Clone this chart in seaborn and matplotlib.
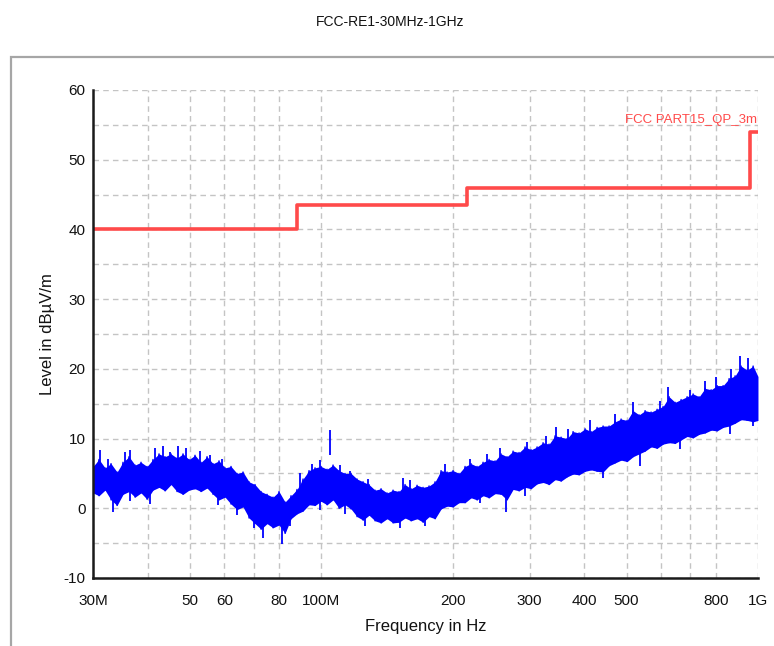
import matplotlib
matplotlib.use("Agg")
import matplotlib.pyplot as plt
import pandas as pd
import seaborn as sns
from matplotlib.patches import Rectangle
from matplotlib.ticker import FixedLocator, FixedFormatter, NullLocator

# ── Data ──────────────────────────────────────────────────────────

TITLE = "FCC-RE1-30MHz-1GHz"

# limit line (step, frequencies in MHz)
limit_freq_mhz = [30, 88, 216, 960, 1000]
limit_level = [40.0, 43.5, 46.0, 54.0, 54.0]
limit_name = "FCC PART15_QP_3m"

trace_freq_mhz = [
    30.00, 30.96, 31.96, 32.99, 34.05, 35.14, 36.27, 37.44, 38.64, 39.88,
    41.16, 42.49, 43.85, 45.26, 46.72, 48.22, 49.77, 51.37, 53.02, 54.73,
    56.49, 58.30, 60.18, 62.11, 64.11, 66.17, 68.30, 70.49, 72.76, 75.10,
    77.51, 80.00, 82.58, 85.23, 87.97, 90.80, 93.72, 96.73, 99.84, 103.05,
    106.37, 109.79, 113.32, 116.96, 120.72, 124.60, 128.61, 132.74, 137.01, 141.42,
    145.97, 150.66, 155.50, 160.50, 165.66, 170.99, 176.49, 182.16, 188.02, 194.06,
    200.30, 206.74, 213.39, 220.25, 227.33, 234.64, 242.18, 249.97, 258.01, 266.30,
    274.87, 283.70, 292.82, 302.24, 311.96, 321.99, 332.34, 343.03, 354.06, 365.44,
    377.19, 389.32, 401.84, 414.76, 428.10, 441.86, 456.07, 470.74, 485.87, 501.49,
    517.62, 534.26, 551.44, 569.17, 587.47, 606.36, 625.86, 645.98, 666.75, 688.19,
    710.32, 733.16, 756.73, 781.06, 806.18, 832.10, 858.86, 886.47, 914.97, 944.39,
    974.76, 1000.0,
]
trace_hi = [
    6.0, 7.0, 5.8, 6.4, 5.2, 6.6, 7.4, 6.2, 6.6, 6.0,
    7.0, 7.8, 7.4, 7.8, 7.2, 7.8, 7.0, 7.6, 6.6, 7.4,
    6.4, 6.8, 5.8, 6.0, 5.0, 5.2, 3.8, 3.4, 2.4, 2.0,
    1.6, 2.4, 0.9, 1.8, 2.7, 4.2, 5.4, 5.8, 6.0, 5.6,
    6.2, 5.4, 5.0, 5.0, 4.2, 3.8, 3.4, 2.6, 2.8, 2.2,
    2.6, 2.4, 3.4, 2.8, 3.3, 3.0, 3.2, 3.8, 5.4, 5.2,
    5.4, 5.0, 6.0, 6.4, 6.0, 6.6, 7.0, 6.8, 7.8, 7.4,
    8.2, 8.0, 8.8, 8.4, 8.8, 9.4, 9.2, 10.4, 10.2, 10.0,
    11.0, 10.8, 11.4, 11.0, 11.6, 11.8, 11.8, 12.4, 12.8, 12.6,
    14.0, 13.4, 14.0, 13.8, 14.2, 14.6, 16.0, 15.2, 15.6, 16.0,
    16.4, 16.0, 17.2, 17.0, 17.6, 17.6, 18.6, 19.0, 20.4, 19.8,
    20.4, 18.9,
]
trace_lo = [
    2.2, 1.8, 2.6, 1.2, 0.4, 2.0, 2.4, 1.6, 2.2, 1.3,
    2.6, 3.0, 2.5, 3.4, 2.4, 2.0, 2.6, 2.8, 2.4, 2.9,
    2.0, 1.2, 1.6, 0.6, -0.2, 0.2, -1.4, -2.2, -3.0, -2.2,
    -2.8, -2.4, -3.6, -1.5, -0.8, -0.4, 0.5, 0.4, 1.0, 0.5,
    1.2, 0.0, 0.5, -0.1, -1.2, -1.7, -1.0, -1.8, -2.1, -1.5,
    -2.1, -2.0, -1.4, -1.8, -1.5, -2.0, -1.2, -1.5, -0.1, 0.3,
    0.2, 0.8, 0.8, 1.5, 1.2, 1.8, 1.5, 2.1, 2.0, 1.2,
    2.7, 2.5, 3.0, 2.8, 3.5, 3.7, 3.4, 4.1, 3.9, 4.5,
    4.9, 4.8, 5.3, 5.5, 5.3, 5.2, 6.1, 6.5, 6.9, 6.7,
    7.4, 7.8, 8.2, 8.8, 8.6, 9.2, 9.4, 9.3, 9.8, 10.3,
    10.1, 10.6, 10.8, 11.2, 11.1, 11.6, 11.8, 12.2, 12.7, 12.6,
    12.4, 12.6,
]

# thin peaks sticking out of the noise band
spike_up_freq_mhz = [
    31.13, 32.47, 35.51, 36.47, 41.60, 43.39, 45.02, 46.97, 48.99, 52.74,
    55.59, 59.24, 89.36, 95.19, 99.32, 104.7, 110.35, 116.32, 127.90, 153.80,
    159.58, 191.91, 218.97, 239.52, 256.52, 295.76, 326.9, 344.6, 367.2, 412.4,
    470.4, 517.3, 596.4, 622.1, 698.5, 756.1, 801.2, 867.2, 909.3, 948.4,
]
spike_up_level = [
    8.4, 7.0, 8.1, 8.3, 8.6, 8.9, 8.0, 9.0, 8.7, 8.2,
    7.6, 7.0, 5.0, 6.4, 6.9, 11.2, 6.2, 5.3, 4.2, 4.3,
    4.0, 6.3, 7.1, 7.8, 8.6, 9.5, 10.3, 11.6, 11.4, 12.6,
    13.5, 15.3, 15.4, 17.4, 17.0, 18.3, 18.8, 20.0, 21.8, 21.6,
]
spike_down_freq_mhz = [
    33.34, 36.47, 40.52, 58.00, 64.10, 70.11, 73.51, 81.26, 84.76, 99.32,
    113.30, 125.90, 151.40, 172.71, 230.84, 264.77, 292.66, 441.7, 536.7, 662.7,
    862.6, 973.8,
]
spike_down_level = [
    -0.6, 1.0, 0.6, 0.5, -0.9, -2.8, -4.2, -5.1, -2.5, -0.2,
    -0.8, -2.5, -2.8, -2.6, 0.8, -0.5, 1.8, 4.3, 6.0, 8.5,
    10.6, 11.8,
]

x_ticks_mhz = [30, 40, 50, 60, 70, 80, 100, 200, 300, 400, 500, 600, 700, 800, 1000]
x_tick_labels = ["30M", "", "50", "60", "", "80", "100M", "200", "300",
                 "400", "500", "", "", "800", "1G"]
y_ticks = [-10, -5, 0, 5, 10, 15, 20, 25, 30, 35, 40, 45, 50, 55, 60]
y_tick_labels = ["-10", "", "0", "", "10", "", "20", "", "30", "", "40",
                 "", "50", "", "60"]

# ── Style ─────────────────────────────────────────────────────────

sns.set_theme(style="white")
plt.rcParams["font.family"] = ["Liberation Sans", "DejaVu Sans"]

TRACE_COLOR = "#0000ff"
LIMIT_COLOR = "#ff4a4a"
GRID_COLOR = "#c4c4c4"
AXIS_COLOR = "#1a1a1a"

# ── Plot ──────────────────────────────────────────────────────────

fig = plt.figure(figsize=(7.74, 6.46), dpi=100)
ax = fig.add_axes([0.1202, 0.1053, 0.8591, 0.7554])

# outer panel frame
fig.add_artist(Rectangle((11 / 774, -0.02), 1.0, 1 - 57 / 646 + 0.02,
                         transform=fig.transFigure, facecolor="none",
                         edgecolor="#a6a6a6", lw=1.6))

fig.text(0.504, 0.966, TITLE, ha="center", va="center", fontsize=10,
         color="#111111")

# measured trace: filled envelope, zig-zag stroke and thin peaks
ax.fill_between(trace_freq_mhz, trace_lo, trace_hi, color=TRACE_COLOR,
                lw=0, zorder=3)
zig = pd.DataFrame({
    "freq": [f for f in trace_freq_mhz for _ in (0, 1)],
    "level": [v for pair in zip(trace_hi, trace_lo) for v in pair],
})
sns.lineplot(data=zig, x="freq", y="level", sort=False, estimator=None,
             color=TRACE_COLOR, lw=1.0, ax=ax, zorder=3)
ax.vlines(spike_up_freq_mhz, [v - 3.5 for v in spike_up_level],
          spike_up_level, color=TRACE_COLOR, lw=1.3, zorder=3)
ax.vlines(spike_down_freq_mhz, spike_down_level,
          [v + 3.5 for v in spike_down_level], color=TRACE_COLOR, lw=1.3,
          zorder=3)

# limit line
sns.lineplot(x=limit_freq_mhz, y=limit_level, sort=False, estimator=None,
             drawstyle="steps-post", color=LIMIT_COLOR, lw=2.6, ax=ax,
             zorder=4)
ax.text(995, 55.7, limit_name, ha="right", va="center", fontsize=9.5,
        color=LIMIT_COLOR)

# axes
ax.set_xscale("log")
ax.set_xlim(30, 1000)
ax.set_ylim(-10, 60)

ax.xaxis.set_major_locator(FixedLocator(x_ticks_mhz))
ax.xaxis.set_major_formatter(FixedFormatter(x_tick_labels))
ax.xaxis.set_minor_locator(NullLocator())
ax.yaxis.set_major_locator(FixedLocator(y_ticks))
ax.yaxis.set_major_formatter(FixedFormatter(y_tick_labels))

ax.tick_params(axis="both", which="major", direction="inout", length=7,
               width=1.4, color=AXIS_COLOR, labelsize=11, labelcolor="#111111")
ax.tick_params(axis="x", pad=8)
ax.tick_params(axis="y", pad=2)

ax.grid(True, color=GRID_COLOR, ls=(0, (4, 3)), lw=1.0)
ax.set_axisbelow(True)

for side in ["top", "right"]:
    ax.spines[side].set_visible(False)
for side in ["left", "bottom"]:
    ax.spines[side].set_color(AXIS_COLOR)
    ax.spines[side].set_linewidth(1.8)
    ax.spines[side].set_zorder(5)

ax.set_xlabel("Frequency in Hz", fontsize=12, labelpad=8, color="#111111")
ax.set_ylabel("Level in dBµV/m", fontsize=12, labelpad=6, color="#111111")

fig.savefig("out.png", dpi=100)
